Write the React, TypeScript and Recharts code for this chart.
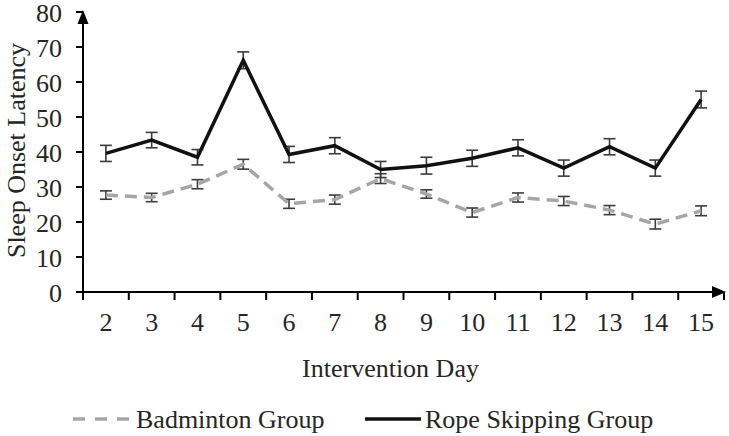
import React from 'react';
import { LineChart, Line, XAxis, YAxis, ErrorBar, Label } from 'recharts';

const days = [2, 3, 4, 5, 6, 7, 8, 9, 10, 11, 12, 13, 14, 15];
const badminton = [27.7, 27.0, 30.8, 36.5, 25.2, 26.4, 32.4, 28.0, 22.7, 27.0, 26.0, 23.4, 19.4, 23.2];
const badmintonErr = [1.2, 1.2, 1.3, 1.4, 1.3, 1.3, 1.4, 1.2, 1.3, 1.3, 1.3, 1.3, 1.4, 1.4];
const rope = [39.6, 43.4, 38.5, 66.2, 39.3, 41.8, 35.0, 36.1, 38.2, 41.2, 35.4, 41.5, 35.4, 55.0];
const ropeErr = [2.3, 2.2, 2.2, 2.4, 2.3, 2.3, 2.3, 2.4, 2.3, 2.3, 2.3, 2.3, 2.3, 2.4];
const yTicks = [0, 10, 20, 30, 40, 50, 60, 70, 80];
const dayBounds = [1.5, 2.5, 3.5, 4.5, 5.5, 6.5, 7.5, 8.5, 9.5, 10.5, 11.5, 12.5, 13.5, 14.5, 15.5];

const data = days.map((d, i) => ({
  day: d,
  badminton: badminton[i],
  badmintonErr: badmintonErr[i],
  rope: rope[i],
  ropeErr: ropeErr[i],
}));

const FONT = '"Liberation Serif", "Times New Roman", serif';
const TEXT = '#262626';
const FS = 26;
const Y_TICK_SIZE = 7;
const Y_TICK_MARGIN = 14;

// y tick labels, plus the arrow head on top of the axis
const YTick = ({ x, y, payload }: any) => {
  const axisX = x + Y_TICK_SIZE + Y_TICK_MARGIN;
  return (
    <g>
      <text x={x} y={y + 9.5} textAnchor="end" fontFamily={FONT} fontSize={FS} fill={TEXT}>
        {payload.value}
      </text>
      {payload.value === 80 && (
        <polygon
          points={`${axisX - 5.5},${y + 12} ${axisX + 5.5},${y + 12} ${axisX},${y - 2}`}
          fill="#000"
        />
      )}
    </g>
  );
};

// boundary axis: only the arrow at the right end, tick lines come from the axis
const BoundTick = ({ x, y, payload }: any) => {
  if (payload.value !== 15.5) return <g />;
  const axisY = y - 8;
  return (
    <polygon points={`${x - 12},${axisY - 6} ${x - 12},${axisY + 6} ${x + 2},${axisY}`} fill="#000" />
  );
};

const DayTick = ({ x, y, payload }: any) => (
  <text x={x} y={y + 29} textAnchor="middle" fontFamily={FONT} fontSize={FS} fill={TEXT}>
    {payload.value}
  </text>
);

const YTitle = ({ viewBox }: any) => (
  <text
    transform={`translate(25,${viewBox.y + viewBox.height / 2 - 1.5}) rotate(-90)`}
    textAnchor="middle"
    fontFamily={FONT}
    fontSize={FS}
    fill={TEXT}
  >
    Sleep Onset Latency
  </text>
);

const XTitle = ({ viewBox }: any) => (
  <text
    x={viewBox.x + viewBox.width / 2 - 13}
    y={viewBox.y + 75}
    textAnchor="middle"
    fontFamily={FONT}
    fontSize={FS}
    fill={TEXT}
  >
    Intervention Day
  </text>
);

const LegendRow = () => (
  <svg width={729} height={40} style={{ position: 'absolute', left: 0, top: 398 }}>
    <line x1={73} x2={130} y1={21} y2={21} stroke="#a6a6a6" strokeWidth={3.5} strokeDasharray="12 10" />
    <text x={136} y={30} fontFamily={FONT} fontSize={FS} fill={TEXT}>Badminton Group</text>
    <line x1={365} x2={421} y1={21} y2={21} stroke="#111" strokeWidth={3.5} />
    <text x={425} y={30} fontFamily={FONT} fontSize={FS} fill={TEXT}>Rope Skipping Group</text>
  </svg>
);

export default function App() {
  return (
    <div style={{ position: 'absolute', left: 0, top: 0, width: 729, height: 436, background: '#fff' }}>
      <LineChart width={729} height={436} data={data} margin={{ top: 12, right: 5, bottom: 44, left: 0 }}>
        <XAxis
          dataKey="day"
          type="number"
          domain={[1.5, 15.5]}
          ticks={dayBounds}
          allowDataOverflow
          height={10}
          tickSize={8}
          tickMargin={0}
          axisLine={{ stroke: '#000', strokeWidth: 2 }}
          tickLine={{ stroke: '#000', strokeWidth: 2 }}
          tick={<BoundTick />}
          interval={0}
        />
        <XAxis
          xAxisId="labels"
          dataKey="day"
          type="number"
          domain={[1.5, 15.5]}
          ticks={days}
          height={90}
          tickSize={0}
          tickMargin={0}
          axisLine={false}
          tickLine={false}
          tick={<DayTick />}
          interval={0}
        >
          <Label content={<XTitle />} />
        </XAxis>
        <YAxis
          domain={[0, 80]}
          ticks={yTicks}
          width={83}
          interval={0}
          tickSize={Y_TICK_SIZE}
          tickMargin={Y_TICK_MARGIN}
          axisLine={{ stroke: '#000', strokeWidth: 2 }}
          tickLine={{ stroke: '#000', strokeWidth: 2 }}
          tick={<YTick />}
        >
          <Label content={<YTitle />} />
        </YAxis>
        <Line
          dataKey="badminton"
          stroke="#a6a6a6"
          strokeWidth={3.5}
          strokeDasharray="12 7"
          dot={false}
          activeDot={false}
          isAnimationActive={false}
        >
          <ErrorBar dataKey="badmintonErr" direction="y" width={6} stroke="#3c3c3c" strokeWidth={1.6} />
        </Line>
        <Line
          dataKey="rope"
          stroke="#111"
          strokeWidth={3.5}
          dot={false}
          activeDot={false}
          isAnimationActive={false}
        >
          <ErrorBar dataKey="ropeErr" direction="y" width={6} stroke="#3c3c3c" strokeWidth={1.6} />
        </Line>
      </LineChart>
      <LegendRow />
    </div>
  );
}
